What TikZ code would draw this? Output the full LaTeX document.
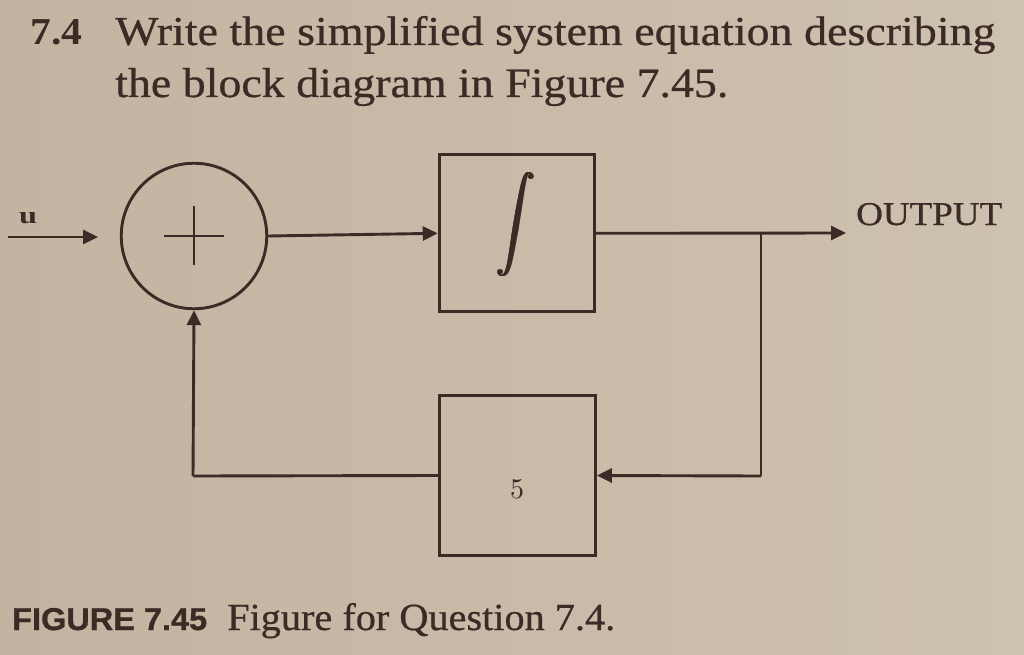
\documentclass[tikz,border=0pt]{standalone}
\usepackage{fontspec}
\setmainfont{Liberation Serif}
\setsansfont{Liberation Sans}
\newfontfamily\heavyserif{Liberation Serif}[FakeBold=0.6]
\newfontfamily\heavysans{Liberation Sans Bold}[FakeBold=0.8]
\newfontfamily\lmfont{Latin Modern Roman}
\usetikzlibrary{arrows.meta}
\definecolor{paperL}{HTML}{C3B4A1}
\definecolor{paperR}{HTML}{CDC1AF}
\definecolor{ink}{HTML}{3B2A26}
\newcommand{\thickint}{\rlap{$\displaystyle\int$}\kern0.25pt\rlap{$\displaystyle\int$}\kern0.25pt\rlap{$\displaystyle\int$}\kern0.25pt$\displaystyle\int$}
\tikzset{
  wire/.style={draw=ink, line width=2.9pt},
  arr/.style={wire, -{Triangle[length=15pt,width=14pt]}},
  blockbox/.style={draw=ink, line width=2.9pt, rectangle, inner sep=0pt},
  sumnode/.style={draw=ink, line width=2.9pt, circle, inner sep=0pt, minimum size=145.5pt},
  lbl/.style={inner sep=0pt, text=ink, anchor=base west},
}
\begin{document}
\begin{tikzpicture}[x=1pt,y=-1pt]
\useasboundingbox (0,0) rectangle (1024,655);
\fill[left color=paperL, right color=paperR] (0,0) rectangle (1024,655);

% question text
\node[lbl] (qnum) at (30,45) {\resizebox{52pt}{25pt}{\bfseries 7.4}};
\node[lbl] (qline1) at (115,45) {\resizebox{880pt}{29pt}{\heavyserif Write the simplified system equation describing}};
\node[lbl] (qline2) at (115,97) {\resizebox{613pt}{29pt}{\heavyserif the block diagram in Figure 7.45.}};

% blocks
\node[sumnode] (sum) at (194,236) {};
\draw[draw=ink, line width=2.3pt] ([xshift=-30pt]sum.center) -- ([xshift=30pt]sum.center);
\draw[draw=ink, line width=2.3pt] ([yshift=-29pt]sum.center) -- ([yshift=30pt]sum.center);

\node[blockbox, minimum width=155pt, minimum height=157pt] (integ) at (516.7,233.3) {};
\node[lbl, anchor=center] (inttxt) at (516,225) {\resizebox*{42pt}{104pt}{\thickint}};
\node[blockbox, minimum width=156pt, minimum height=160pt] (gain) at (517.5,475.5) {};
\node[lbl, anchor=base] (gaintxt) at (517,498) {\resizebox{14pt}{19pt}{\lmfont 5}};

% coordinates
\coordinate (instart) at (8,237);
\coordinate (inend) at (98,237);
\coordinate (outend) at (846,233);
\coordinate (branch) at (761,233);
\coordinate (fbright) at (761,476);
\coordinate (fbleft) at (193,476);

% labels
\node[lbl] (ulbl) at (19,223) {\resizebox{18pt}{11pt}{\bfseries u}};
\node[lbl] (outlbl) at (856,225) {\resizebox{146pt}{22pt}{\heavyserif OUTPUT}};

% connectors
\draw[arr] (instart) -- (inend);
\draw[arr] (sum.east) -- (integ.west);
\draw[arr] (integ.east) -- (outend);
\draw[wire] (branch) -- (fbright);
\draw[arr] (fbright) -- (gain.east);
\draw[wire] (gain.west) -- (fbleft);
\draw[arr] (fbleft) -- (sum.south);

% caption
\node[lbl] (capnum) at (12,630) {\resizebox{195pt}{22pt}{\heavysans FIGURE 7.45}};
\node[lbl] (captxt) at (227,630) {\resizebox{388pt}{27pt}{\heavyserif Figure for Question 7.4.}};
\end{tikzpicture}
\end{document}
